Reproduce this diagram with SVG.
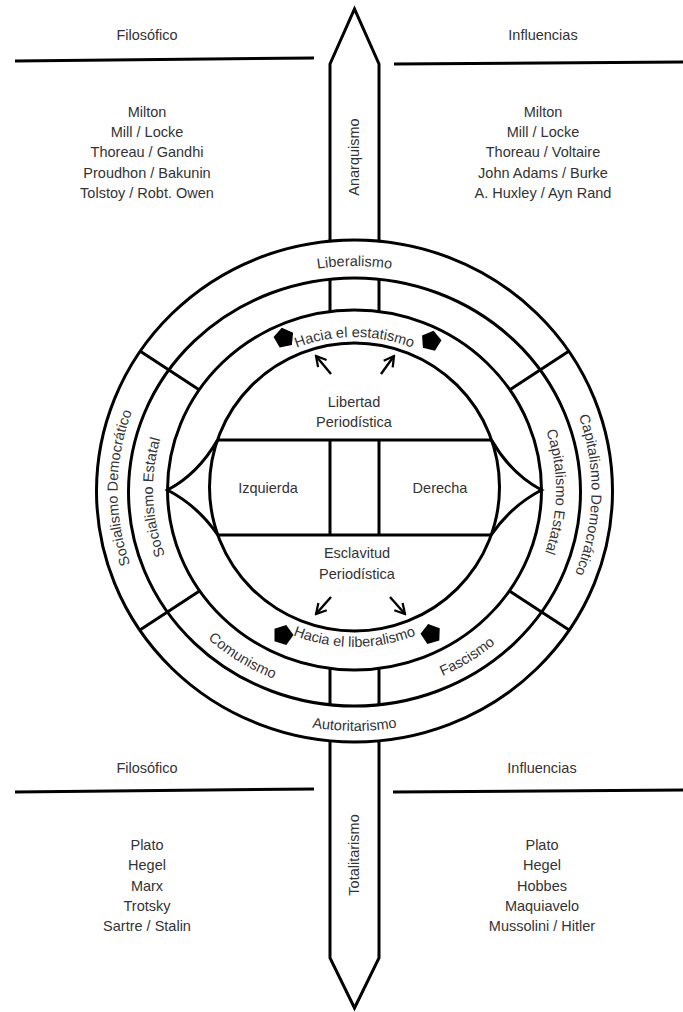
<svg xmlns="http://www.w3.org/2000/svg" width="683" height="1012" viewBox="0 0 683 1012">
<style>
.ln{fill:none;stroke:#000;stroke-width:3;stroke-linejoin:miter}
.rg{fill:none;stroke:#000;stroke-width:3}
.t{font-family:"Liberation Sans",Arial,sans-serif;font-size:14.5px;fill:#333}
.c{text-anchor:middle}
.ar{fill:none;stroke:#000;stroke-width:2.4;marker-end:url(#ah)}
</style>
<defs>
<marker id="ah" viewBox="0 0 10 10" refX="8.5" refY="5" markerWidth="5.5" markerHeight="5.5" orient="auto" markerUnits="strokeWidth"><path d="M1,0.8 L8.5,5 L1,9.2" fill="none" stroke="#000" stroke-width="1.7"/></marker>
<polygon id="pent" points="0,-10.5 10,-3.2 6.2,8.5 -6.2,8.5 -10,-3.2" fill="#000"/>
<path id="p-lib" d="M120.5,491 A234 225 0 0 1 588.5,491"/>
<path id="p-est" d="M198.5,489 A156 152 0 0 1 510.5,489"/>
<path id="p-hlib" d="M192.5,489 A162 158 0 0 0 516.5,489"/>
<path id="p-aut" d="M105.5,491 A249 240 0 0 0 603.5,491"/>
<path id="p-low" d="M140.5,490 A214 204 0 0 0 568.5,490"/>
<path id="p-sd" d="M354.5,717.7 A237 227.7 0 0 1 354.5,262.3"/>
<path id="p-se" d="M354.5,682.2 A201.5 192.2 0 0 1 354.5,297.8"/>
<path id="p-cd" d="M354.5,262.3 A237 227.7 0 0 1 354.5,717.7"/>
<path id="p-ce" d="M354.5,297.8 A201.5 192.2 0 0 1 354.5,682.2"/>
</defs>
<rect width="683" height="1012" fill="#fff"/>

<g id="header-top">
<path class="ln" d="M15,61 L314,58"/>
<path class="ln" d="M394,64 L683,62"/>
<text class="t c" x="147" y="40">Filosófico</text>
<text class="t c" x="543" y="40">Influencias</text>
</g>

<g id="list-top-left" class="t c">
<text x="147" y="116.5">Milton</text>
<text x="147" y="137">Mill / Locke</text>
<text x="147" y="157.3">Thoreau / Gandhi</text>
<text x="147" y="177.6">Proudhon / Bakunin</text>
<text x="147" y="198">Tolstoy / Robt. Owen</text>
</g>
<g id="list-top-right" class="t c">
<text x="543" y="116.5">Milton</text>
<text x="543" y="137">Mill / Locke</text>
<text x="543" y="157.3">Thoreau / Voltaire</text>
<text x="543" y="177.6">John Adams / Burke</text>
<text x="543" y="198">A. Huxley / Ayn Rand</text>
</g>

<g id="bar-anarquismo">
<path class="ln" d="M330,241 V64 L354.5,9 L379,64 V241"/>
<text class="t c" transform="translate(359,157) rotate(-90)">Anarquismo</text>
</g>

<g id="rings">
<ellipse class="rg" cx="354.5" cy="491" rx="258" ry="251"/>
<ellipse class="rg" cx="354.5" cy="492" rx="226" ry="214"/>
<ellipse class="rg" cx="354.5" cy="490" rx="187" ry="180"/>
<ellipse class="rg" cx="354.5" cy="487" rx="145" ry="144"/>
<path class="ln" d="M330,279 V311.5 M379,279 V311.5 M330,668.5 V705 M379,668.5 V705"/>
<path class="ln" d="M199.5,389.9 L139.9,351.1 M509.5,389.9 L569.1,351.1 M199.5,591.1 L139.9,629.9 M509.5,591.1 L569.1,629.9"/>
</g>

<g id="ring-labels" class="t c">
<text><textPath href="#p-lib" startOffset="50%">Liberalismo</textPath></text>
<text><textPath href="#p-aut" startOffset="50%">Autoritarismo</textPath></text>
<text><textPath href="#p-sd" startOffset="50.3%">Socialismo Democrático</textPath></text>
<text><textPath href="#p-se" startOffset="48.8%">Socialismo Estatal</textPath></text>
<text><textPath href="#p-cd" startOffset="50.7%">Capitalismo Democrático</textPath></text>
<text><textPath href="#p-ce" startOffset="50.3%">Capitalismo Estatal</textPath></text>
<text><textPath href="#p-low" startOffset="31.5%">Comunismo</textPath></text>
<text><textPath href="#p-low" startOffset="68.5%">Fascismo</textPath></text>
<text><textPath href="#p-est" startOffset="50%">Hacia el estatismo</textPath></text>
<text><textPath href="#p-hlib" startOffset="50%">Hacia el liberalismo</textPath></text>
</g>

<g id="markers-pent">
<use href="#pent" transform="translate(284,338) rotate(-12)"/>
<use href="#pent" transform="translate(431,341) rotate(14)"/>
<use href="#pent" transform="translate(283,635) rotate(18)"/>
<use href="#pent" transform="translate(431,634) rotate(-16)"/>
</g>

<g id="center">
<path class="ln" d="M217.5,440 H491.5 M217.8,535 H491.2 M330,440 V535 M379,440 V535"/>
<path class="ln" d="M217.5,440 Q198,474 167.5,490 Q198,506 217.8,535"/>
<path class="ln" d="M491.5,440 Q511,474 541.5,490 Q511,506 491.2,535"/>
<text class="t c" x="354" y="407">Libertad</text>
<text class="t c" x="354" y="427">Periodística</text>
<text class="t c" x="268" y="493">Izquierda</text>
<text class="t c" x="440" y="493">Derecha</text>
<text class="t c" x="357" y="558">Esclavitud</text>
<text class="t c" x="357" y="579">Periodística</text>
</g>

<g id="connectors">
<path class="ar" d="M331,374 L316,356"/>
<path class="ar" d="M381,374 L394,356"/>
<path class="ar" d="M331,597 L316,614"/>
<path class="ar" d="M390,597 L405,614"/>
</g>

<g id="bar-totalitarismo">
<path class="ln" d="M330,741 V958 L354.5,1008 L379,958 V741"/>
<text class="t c" transform="translate(359,855) rotate(-90)">Totalitarismo</text>
</g>

<g id="header-bottom">
<path class="ln" d="M15,792 L314,789"/>
<path class="ln" d="M393,792 L683,790"/>
<text class="t c" x="147" y="773">Filosófico</text>
<text class="t c" x="542" y="773">Influencias</text>
</g>

<g id="list-bottom-left" class="t c">
<text x="147" y="849.7">Plato</text>
<text x="147" y="870">Hegel</text>
<text x="147" y="890.5">Marx</text>
<text x="147" y="910.5">Trotsky</text>
<text x="147" y="930.5">Sartre / Stalin</text>
</g>
<g id="list-bottom-right" class="t c">
<text x="542" y="849.7">Plato</text>
<text x="542" y="870">Hegel</text>
<text x="542" y="890.5">Hobbes</text>
<text x="542" y="910.5">Maquiavelo</text>
<text x="542" y="930.5">Mussolini / Hitler</text>
</g>
</svg>
